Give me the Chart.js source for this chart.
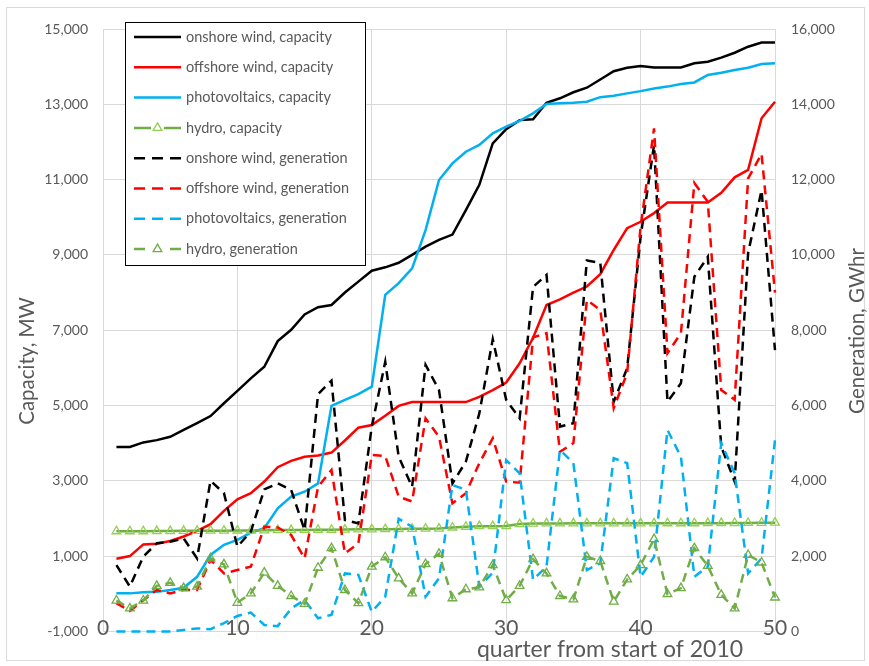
<!DOCTYPE html>
<html>
<head>
<meta charset="utf-8">
<title>Capacity and generation</title>
<script src="https://cdn.jsdelivr.net/npm/chart.js@4/dist/chart.umd.min.js"></script>
<style>
    html, body { margin: 0; padding: 0; background: #fff; }
    #wrap { position: relative; width: 869px; height: 666px; }
</style>
</head>
<body>
<div id="wrap"><canvas id="chart" width="869" height="666"></canvas></div>
<script>
// quarter index (x values)
var quarters = [1, 2, 3, 4, 5, 6, 7, 8, 9, 10, 11, 12, 13, 14, 15, 16, 17, 18, 19, 20,
    21, 22, 23, 24, 25, 26, 27, 28, 29, 30, 31, 32, 33, 34, 35, 36, 37, 38, 39, 40,
    41, 42, 43, 44, 45, 46, 47, 48, 49, 50];

// capacity, MW (left axis)
var onshoreCap = [3900, 3900, 4020, 4080, 4170, 4350, 4530, 4720, 5060, 5390, 5720, 6030, 6710, 7010, 7420, 7610, 7670, 8000, 8290, 8580,
    8670, 8790, 9000, 9220, 9400, 9540, 10190, 10860, 11960, 12340, 12580, 12600, 13040, 13160, 13320, 13440, 13660, 13880, 13970, 14020,
    13980, 13980, 13980, 14090, 14130, 14240, 14370, 14530, 14640, 14640];
var offshoreCap = [930, 1000, 1310, 1330, 1400, 1520, 1670, 1850, 2200, 2510, 2670, 2980, 3360, 3530, 3640, 3670, 3750, 4070, 4410, 4480,
    4730, 4990, 5090, 5090, 5090, 5090, 5090, 5230, 5410, 5610, 6120, 6800, 7670, 7820, 8000, 8160, 8490, 9130, 9710, 9880,
    10110, 10390, 10390, 10390, 10390, 10650, 11060, 11260, 12630, 13070];
var pvCap = [10, 10, 40, 50, 100, 160, 450, 1030, 1300, 1430, 1620, 1740, 2270, 2580, 2710, 2930, 4990, 5150, 5300, 5500,
    7940, 8250, 8640, 9660, 10990, 11430, 11740, 11920, 12230, 12410, 12560, 12760, 13010, 13030, 13040, 13070, 13190, 13230, 13290, 13350,
    13420, 13470, 13540, 13580, 13780, 13840, 13910, 13970, 14070, 14090];
var hydroCap = [1660, 1660, 1660, 1665, 1665, 1670, 1670, 1675, 1675, 1680, 1680, 1685, 1690, 1690, 1695, 1700, 1700, 1705, 1710, 1710,
    1715, 1720, 1725, 1728, 1730, 1760, 1780, 1795, 1795, 1800, 1850, 1865, 1868, 1868, 1870, 1870, 1870, 1870, 1870, 1870,
    1870, 1872, 1872, 1872, 1875, 1875, 1878, 1880, 1885, 1888];

// generation, GWhr (right axis)
var onshoreGen = [1760, 1190, 1990, 2340, 2380, 2470, 1940, 4000, 3670, 2250, 2650, 3770, 3930, 3760, 2690, 6300, 6660, 2960, 2870, 5440,
    7160, 4640, 3840, 7080, 6410, 3930, 4510, 5790, 7760, 6150, 5660, 9150, 9470, 5440, 5530, 9850, 9790, 6100, 6990, 10480,
    12920, 6100, 6590, 9420, 9950, 4910, 3980, 10050, 11720, 7470];
var offshoreGen = [750, 540, 830, 1100, 1010, 1100, 1100, 1900, 1540, 1630, 1720, 2780, 2760, 2560, 1940, 3840, 4290, 2070, 2340, 4690,
    4660, 3580, 3450, 5660, 5170, 3400, 3670, 4470, 5130, 3980, 3950, 7810, 7920, 4770, 5000, 8800, 8540, 5930, 6860, 10750,
    13360, 7390, 7920, 11910, 11410, 6410, 6150, 12030, 12680, 9000];
var pvGen = [0, 0, 0, 0, 0, 40, 80, 60, 220, 410, 500, 170, 140, 610, 830, 350, 440, 1540, 1500, 520,
    920, 2990, 2780, 920, 1410, 3890, 3760, 1190, 1560, 4550, 4200, 1370, 1720, 4820, 4470, 1630, 1810, 4600, 4470, 1450,
    1980, 5350, 4640, 1450, 1720, 5000, 4200, 1540, 1940, 5080];
var hydroGen = [820, 610, 820, 1210, 1290, 1150, 1190, 1940, 1780, 760, 1010, 1560, 1210, 940, 730, 1690, 2210, 1100, 750, 1720,
    1970, 1410, 1010, 1790, 2060, 880, 1120, 1170, 1760, 830, 1210, 1920, 1540, 940, 850, 1980, 1870, 790, 1380, 1760,
    2450, 990, 1150, 2210, 1740, 970, 610, 2030, 1830, 900];

var seriesNames = [
    'onshore wind, capacity', 'offshore wind, capacity', 'photovoltaics, capacity', 'hydro, capacity',
    'onshore wind, generation', 'offshore wind, generation', 'photovoltaics, generation', 'hydro, generation'
];

var textGrey = '#595959';
var gridGrey = '#d9d9d9';
var fontName = 'Lato, "Open Sans", sans-serif';

function toPoints(values) {
    var pts = [];
    for (var i = 0; i < quarters.length; i++) {
        pts.push({ x: quarters[i], y: values[i] });
    }
    return pts;
}

function makeSet(idx, values, color, axis, dashed, marker) {
    var ds = {
        label: seriesNames[idx],
        data: toPoints(values),
        yAxisID: axis,
        borderColor: color,
        backgroundColor: color,
        borderWidth: 2.5,
        borderDash: dashed ? [9, 6] : [],
        tension: 0,
        fill: false,
        clip: false,
        order: 10 - idx,
        pointRadius: 0
    };
    if (marker) {
        ds.pointStyle = 'triangle';
        ds.pointRadius = 5;
        ds.pointBorderWidth = 1.3;
        ds.pointBorderColor = marker;
        ds.pointBackgroundColor = 'rgba(0,0,0,0)';
    }
    return ds;
}

var datasets = [
    makeSet(0, onshoreCap, '#000000', 'y', false),
    makeSet(1, offshoreCap, '#ff0000', 'y', false),
    makeSet(2, pvCap, '#00b0f0', 'y', false),
    makeSet(3, hydroCap, '#70ad47', 'y', false, '#92d050'),
    makeSet(4, onshoreGen, '#000000', 'y1', true),
    makeSet(5, offshoreGen, '#ff0000', 'y1', true),
    makeSet(6, pvGen, '#00b0f0', 'y1', true),
    makeSet(7, hydroGen, '#70ad47', 'y1', true, '#70ad47')
];

function fmt(v) {
    return Number(v).toLocaleString('en-US');
}

// outer border and axis titles
var framePlugin = {
    id: 'frame',
    beforeDraw: function(chart) {
        var ctx = chart.ctx;
        ctx.save();
        ctx.fillStyle = '#fff';
        ctx.fillRect(0, 0, chart.width, chart.height);
        ctx.strokeStyle = gridGrey;
        ctx.lineWidth = 1;
        ctx.strokeRect(6.5, 7.5, 858, 653);
        ctx.restore();
    },
    afterDraw: function(chart) {
        var ctx = chart.ctx;
        ctx.save();
        ctx.fillStyle = textGrey;
        ctx.font = '23px ' + fontName;
        ctx.textAlign = 'center';
        ctx.textBaseline = 'middle';
        ctx.fillText('quarter from start of 2010', 610, 650);

        ctx.font = '20.5px ' + fontName;
        ctx.save();
        ctx.translate(27, 361);
        ctx.rotate(-Math.PI / 2);
        ctx.fillText('Capacity, MW', 0, 0);
        ctx.restore();

        ctx.save();
        ctx.translate(857, 331);
        ctx.rotate(-Math.PI / 2);
        ctx.fillText('Generation, GWhr', 0, 0);
        ctx.restore();
        ctx.restore();
    }
};

// legend box drawn inside the plot, top left
var boxLegend = {
    id: 'boxLegend',
    afterDraw: function(chart) {
        var ctx = chart.ctx;
        var bx = 125.5, by = 22.5, bw = 240, bh = 243;
        ctx.save();
        ctx.fillStyle = '#fff';
        ctx.fillRect(bx, by, bw, bh);
        ctx.strokeStyle = '#000';
        ctx.lineWidth = 1;
        ctx.strokeRect(bx, by, bw, bh);

        chart.data.datasets.forEach(function(ds, i) {
            var rowY = 37 + i * 30.3;
            ctx.save();
            ctx.strokeStyle = ds.borderColor;
            ctx.lineWidth = ds.borderWidth;
            ctx.setLineDash(ds.borderDash.length ? [11, 7] : []);
            ctx.beginPath();
            ctx.moveTo(134, rowY);
            ctx.lineTo(181, rowY);
            ctx.stroke();
            ctx.restore();
            if (ds.pointStyle === 'triangle') {
                ctx.save();
                ctx.fillStyle = '#fff';
                ctx.fillRect(151, rowY - 5, 13, 10);
                ctx.strokeStyle = ds.pointBorderColor;
                ctx.lineWidth = ds.pointBorderWidth;
                Chart.helpers.drawPoint(ctx, { pointStyle: 'triangle', radius: ds.pointRadius, borderWidth: ds.pointBorderWidth, rotation: 0 }, 157.5, rowY);
                ctx.restore();
            }
            ctx.fillStyle = textGrey;
            ctx.font = '14.5px ' + fontName;
            ctx.textAlign = 'left';
            ctx.textBaseline = 'middle';
            ctx.fillText(ds.label, 186, rowY);
        });
        ctx.restore();
    }
};

var ctx = document.getElementById('chart').getContext('2d');
var chart = new Chart(ctx, {
    type: 'line',
    data: { datasets: datasets },
    options: {
        responsive: false,
        animation: false,
        events: [],
        layout: { padding: { top: 29, left: 0, right: 0, bottom: 0 } },
        plugins: {
            legend: { display: false },
            tooltip: { enabled: false }
        },
        scales: {
            x: {
                type: 'linear',
                min: 0,
                max: 50,
                afterFit: function(scale) { scale.height = 34.6; },
                ticks: {
                    stepSize: 10,
                    mirror: true,   // keeps labels from being clipped to the axis box
                    padding: -9,
                    color: textGrey,
                    font: { family: fontName, size: 21 },
                    maxRotation: 0
                },
                grid: { color: gridGrey, lineWidth: 1, drawTicks: false },
                border: { display: false }
            },
            y: {
                position: 'left',
                min: -1000,
                max: 15000,
                afterFit: function(scale) { scale.width = 103; },
                ticks: {
                    stepSize: 2000,
                    padding: 15,
                    color: textGrey,
                    font: { family: fontName, size: 14 },
                    callback: function(v) { return fmt(v); }
                },
                grid: { color: gridGrey, lineWidth: 1, drawTicks: false },
                border: { display: false }
            },
            y1: {
                position: 'right',
                min: 0,
                max: 16000,
                afterFit: function(scale) { scale.width = 94; },
                ticks: {
                    stepSize: 2000,
                    padding: 16,
                    color: textGrey,
                    font: { family: fontName, size: 14 },
                    callback: function(v) { return fmt(v); }
                },
                grid: { display: false, drawTicks: false },
                border: { display: false }
            }
        }
    },
    plugins: [framePlugin, boxLegend]
});
</script>
</body>
</html>
